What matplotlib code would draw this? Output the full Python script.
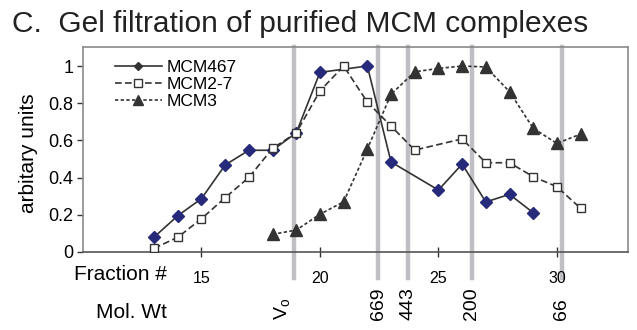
import numpy as np
import matplotlib
matplotlib.use("Agg")
import matplotlib.pyplot as plt

plt.rcParams['font.family'] = ['Liberation Sans', 'DejaVu Sans']

#~~~~~~~~~~~~~~~~~~~~~~~~ data ~~~~~~~~~~~~~~~~~~~~~~~~
frac_467 = [13, 14, 15, 16, 17, 18, 19, 20, 22, 23, 25, 26, 27, 28, 29]
mcm467   = [0.08, 0.195, 0.287, 0.468, 0.547, 0.547, 0.641, 0.966, 1.0,
            0.484, 0.333, 0.473, 0.269, 0.31, 0.211]

frac_27 = [13, 14, 15, 16, 17, 18, 19, 20, 21, 22, 23, 24, 26, 27, 28, 29, 30, 31]
mcm27   = [0.02, 0.079, 0.179, 0.292, 0.401, 0.557, 0.641, 0.866, 1.0, 0.806,
           0.677, 0.548, 0.608, 0.48, 0.48, 0.405, 0.351, 0.235]

frac_3 = [18, 19, 20, 21, 22, 23, 24, 25, 26, 27, 28, 29, 30, 31]
mcm3   = [0.095, 0.118, 0.203, 0.27, 0.554, 0.848, 0.969, 0.987, 1.0, 0.995,
          0.862, 0.665, 0.584, 0.634]

# size standards (fraction position, label)
std_pos    = [18.9, 22.45, 23.7, 26.4, 30.2]
std_labels = [r'V$_{\mathregular{o}}$', '669', '443', '200', '66']

#~~~~~~~~~~~~~~~~~~~~~~~~ figure ~~~~~~~~~~~~~~~~~~~~~~~~
fig = plt.figure(figsize=(6.37, 3.30), dpi=100)
ax = fig.add_axes([83/637, 1 - 252/330, 545/637, 205.5/330])

dark = '#333333'
for xs in std_pos:
    ax.axvline(xs, ymin=-0.127, ymax=1.0, color='#bfbfc4', lw=3.2,
               zorder=1, clip_on=False)

ax.plot(frac_467, mcm467, color=dark, lw=1.2, marker='D', ms=5.8,
        mfc='#27297a', mec='#27297a', label='MCM467', zorder=4)
ax.plot(frac_27, mcm27, color=dark, lw=1.2, dashes=(4, 2), marker='s', ms=6,
        mfc='white', mec=dark, mew=1.0, label='MCM2-7', zorder=5)
ax.plot(frac_3, mcm3, color=dark, lw=1.2, dashes=(2, 1.4), marker='^', ms=8.5,
        mfc=dark, mec=dark, label='MCM3', zorder=3)

ax.set_xlim(10, 33)
ax.set_ylim(0, 1.105)
ax.set_xticks([15, 20, 25, 30])
ax.set_yticks(np.arange(0, 1.01, 0.2))
ax.set_yticklabels(['0', '0.2', '0.4', '0.6', '0.8', '1'])
ax.tick_params(axis='y', labelsize=13, length=4, width=1, pad=3, color=dark)
ax.tick_params(axis='x', labelsize=11.5, direction='inout', length=7, width=1,
               pad=10, color=dark)
for sp in ax.spines.values():
    sp.set_color('#8a8a8a')
    sp.set_linewidth(1.2)
    sp.set_zorder(2.5)
ax.spines['bottom'].set_color('#555555')

leg = ax.legend(loc='upper left', bbox_to_anchor=(0.058, 0.935), frameon=False,
                fontsize=12.5, borderpad=0, borderaxespad=0, labelspacing=0.12,
                handlelength=2.75, handletextpad=0.25)
h = leg.legend_handles
h[0].set_markerfacecolor(dark); h[0].set_markeredgecolor(dark); h[0].set_markersize(4.5)
h[1].set_markersize(5.5)
h[2].set_markersize(6.5)

fig.text(28/637, 1 - 153/330, 'arbitary units', rotation=90, ha='center',
         va='center', fontsize=15)
fig.text(167/637, 1 - 274/330, 'Fraction #', ha='right', va='center', fontsize=15)
fig.text(167/637, 1 - 312/330, 'Mol. Wt', ha='right', va='center', fontsize=15)

tr = ax.get_xaxis_transform()
for xs, lab in zip(std_pos, std_labels):
    dx = -0.45 if lab.startswith('V') else 0.0
    ax.text(xs + dx, -0.33, lab, transform=tr, rotation=90, ha='center',
            va='bottom', fontsize=14)

fig.text(12/637, 1 - 32/330, 'C.  Gel filtration of purified MCM complexes',
         ha='left', va='baseline', fontsize=21.5, color='#222222')

fig.savefig('out.png', dpi=100)
